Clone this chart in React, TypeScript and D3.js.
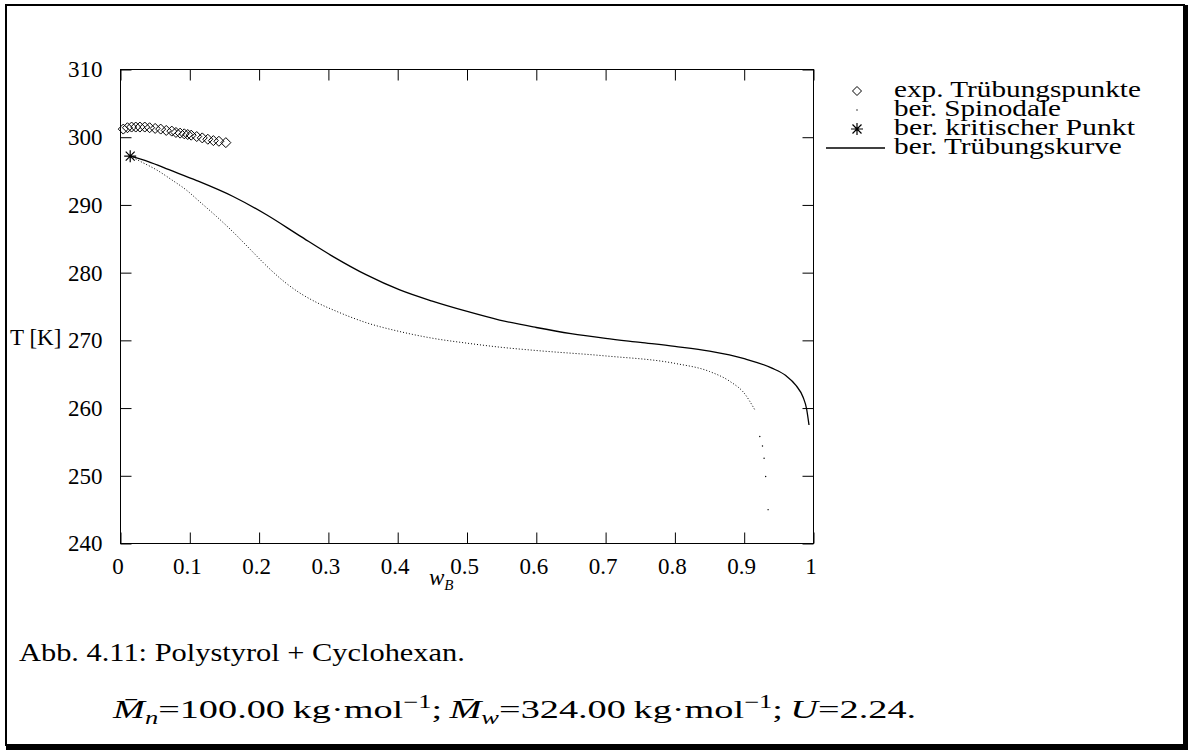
import { useRef, useEffect } from 'react'
import * as d3 from 'd3'

// Achsen
const xTicks = [0, 0.1, 0.2, 0.3, 0.4, 0.5, 0.6, 0.7, 0.8, 0.9, 1]
const xTickLabels = ['0', '0.1', '0.2', '0.3', '0.4', '0.5', '0.6', '0.7', '0.8', '0.9', '1']
const yTicks = [240, 250, 260, 270, 280, 290, 300, 310]

// exp. Trübungspunkte
const cloudPointW = [0.004, 0.01, 0.016, 0.022, 0.028, 0.035, 0.042, 0.05, 0.058, 0.066, 0.074, 0.08, 0.086, 0.092, 0.097, 0.102, 0.11, 0.118, 0.126, 0.134, 0.142, 0.152]
const cloudPointT = [301.2, 301.4, 301.5, 301.5, 301.5, 301.5, 301.4, 301.3, 301.2, 301.0, 300.9, 300.7, 300.6, 300.5, 300.4, 300.3, 300.1, 299.9, 299.7, 299.5, 299.4, 299.2]

// ber. kritischer Punkt
const criticalW = [0.014]
const criticalT = [297.2]

// ber. Spinodale
const spinodalW = [0.014, 0.033, 0.05, 0.074, 0.095, 0.114, 0.1385, 0.1625, 0.1866, 0.2107, 0.2346, 0.2587, 0.283, 0.3068, 0.355, 0.403, 0.451, 0.499, 0.547, 0.6, 0.7, 0.8, 0.85, 0.88, 0.9, 0.915, 0.9225, 0.9264, 0.9287, 0.931, 0.9345]
const spinodalT = [297.2, 296.2, 295.3, 293.7, 292.2, 290.5, 288.3, 286.0, 283.5, 281.0, 278.8, 277.0, 275.6, 274.5, 272.6, 271.3, 270.3, 269.6, 269.0, 268.5, 267.7, 266.6, 265.4, 263.9, 262.2, 259.8, 255.8, 254.4, 252.6, 249.9, 245.0]

// ber. Trübungskurve
const cloudCurveW = [0.014, 0.04, 0.07, 0.11, 0.1625, 0.2107, 0.2587, 0.3068, 0.355, 0.403, 0.451, 0.499, 0.547, 0.6, 0.65, 0.7, 0.75, 0.8, 0.85, 0.9, 0.94, 0.96, 0.975, 0.985, 0.99, 0.9935]
const cloudCurveT = [297.2, 296.4, 295.2, 293.6, 291.25, 288.54, 285.43, 282.37, 279.66, 277.44, 275.75, 274.3, 273.0, 271.9, 271.0, 270.3, 269.7, 269.1, 268.4, 267.3, 265.9, 264.8, 263.3, 261.6, 259.9, 257.5]

const legendLabels = ['exp. Trübungspunkte', 'ber. Spinodale', 'ber. kritischer Punkt', 'ber. Trübungskurve']
const legendWidths = [247, 167, 242, 228]

const FONT = "'Liberation Serif', 'DejaVu Serif', serif"

const App = () => {
  const svgRef = useRef<SVGSVGElement>(null)

  useEffect(() => {
    draw()
  }, [])

  // Text horizontal auf Zielbreite strecken (CM ist breiter als Times)
  const fit = (sel: any, x0: number, target: number) => {
    const bb = sel.node().getBBox()
    if (!bb.width) return
    const s = target / bb.width
    sel.attr('transform', `translate(${x0},0) scale(${s},1) translate(${-x0},0)`)
  }

  const draw = () => {
    const width = 1188
    const height = 750
    const svg = d3.select(svgRef.current).attr('width', width).attr('height', height)
      .style('font-family', FONT)
    svg.selectAll('*').remove()

    svg.append('rect').attr('width', width).attr('height', height).attr('fill', '#fff')

    // Rahmen (shadowbox)
    svg.append('rect').attr('x', 6).attr('y', 5).attr('width', 1178).attr('height', 740)
      .attr('fill', 'none').attr('stroke', '#000').attr('stroke-width', 2)
    svg.append('rect').attr('x', 1184).attr('y', 5).attr('width', 4).attr('height', 745).attr('fill', '#000')
    svg.append('rect').attr('x', 6).attr('y', 745).attr('width', 1182).attr('height', 5).attr('fill', '#000')

    const x = d3.scaleLinear().domain([0, 1]).range([120.5, 813.5])
    const y = d3.scaleLinear().domain([240, 310]).range([543.5, 69.5])

    const tick = 11

    // Plotrahmen
    svg.append('rect')
      .attr('x', x(0)).attr('y', y(310))
      .attr('width', x(1) - x(0)).attr('height', y(240) - y(310))
      .attr('fill', 'none').attr('stroke', '#000').attr('stroke-width', 1)

    const styleAxis = (g: any) => {
      g.select('.domain').remove()
      g.selectAll('.tick line').attr('stroke', '#000')
      g.selectAll('text').attr('fill', '#000').style('font-size', '23px').style('font-family', FONT)
    }

    // x-Achse unten
    svg.append('g')
      .attr('transform', `translate(0, ${y(240)})`)
      .call(d3.axisBottom(x).tickValues(xTicks).tickSize(-tick).tickPadding(14)
        .tickFormat((d, i) => xTickLabels[i]))
      .call(styleAxis)
      .call((g: any) => g.selectAll('text').attr('transform', 'translate(-3,0)'))

    // x-Achse oben (nur Striche)
    svg.append('g')
      .attr('transform', `translate(0, ${y(310)})`)
      .call(d3.axisTop(x).tickValues(xTicks).tickSize(-tick).tickFormat(() => ''))
      .call(styleAxis)

    // y-Achse links
    svg.append('g')
      .attr('transform', `translate(${x(0)}, 0)`)
      .call(d3.axisLeft(y).tickValues(yTicks).tickSize(-tick).tickPadding(18).tickFormat(d3.format('d')))
      .call(styleAxis)

    // y-Achse rechts
    svg.append('g')
      .attr('transform', `translate(${x(1)}, 0)`)
      .call(d3.axisRight(y).tickValues(yTicks).tickSize(-tick).tickFormat(() => ''))
      .call(styleAxis)

    // Achsenbeschriftungen
    svg.append('text').attr('x', 10).attr('y', 345).style('font-size', '23px').text('T [K]')
    const xl = svg.append('text').attr('x', 429).attr('y', 585).style('font-size', '23px')
    xl.append('tspan').style('font-style', 'italic').text('w')
    xl.append('tspan').attr('dy', 5).style('font-style', 'italic').style('font-size', '15px').text('B')

    // Trübungskurve
    const line = d3.line<number>().x((d, i) => x(cloudCurveW[i])).y(d => y(d)).curve(d3.curveMonotoneX)
    svg.append('path').attr('d', line(cloudCurveT))
      .attr('fill', 'none').attr('stroke', '#000').attr('stroke-width', 1.3)

    // Spinodale (Punkte)
    const spIdx = spinodalW.map((w, i) => i)
    const dense = spIdx.filter(i => spinodalW[i] < 0.92)
    const sparse = spIdx.filter(i => spinodalW[i] >= 0.92)
    const spLine = d3.line<number>().x(i => x(spinodalW[i])).y(i => y(spinodalT[i])).curve(d3.curveMonotoneX)
    svg.append('path').attr('d', spLine(dense))
      .attr('fill', 'none').attr('stroke', '#000').attr('stroke-width', 1).attr('stroke-dasharray', '1 2')
    svg.append('g').selectAll('circle').data(sparse).join('circle')
      .attr('cx', i => x(spinodalW[i])).attr('cy', i => y(spinodalT[i])).attr('r', 0.7).attr('fill', '#000')

    // Trübungspunkte
    const diamond = (cx: number, cy: number, s: number) =>
      `M${cx},${cy - s}L${cx + s},${cy}L${cx},${cy + s}L${cx - s},${cy}Z`
    svg.append('g').selectAll('path').data(cloudPointW).join('path')
      .attr('d', (d, i) => diamond(x(d), y(cloudPointT[i]), 5))
      .attr('fill', 'none').attr('stroke', '#000').attr('stroke-width', 1)

    // kritischer Punkt
    const star = (cx: number, cy: number, s: number) => {
      const k = s * 0.75
      return `M${cx - s},${cy}L${cx + s},${cy}M${cx},${cy - s}L${cx},${cy + s}` +
        `M${cx - k},${cy - k}L${cx + k},${cy + k}M${cx - k},${cy + k}L${cx + k},${cy - k}`
    }
    svg.append('g').selectAll('path').data(criticalW).join('path')
      .attr('d', (d, i) => star(x(d), y(criticalT[i]), 6))
      .attr('fill', 'none').attr('stroke', '#000').attr('stroke-width', 1.2)

    // Legende
    const lgX = 857
    const lgRows = [91, 110, 129, 148]
    const legend = svg.append('g')
    legend.selectAll('text').data(legendLabels).join('text')
      .attr('x', 894).attr('y', (d, i) => lgRows[i] + 6)
      .style('font-size', '23px').text(d => d)
      .each(function (this: any, d, i) { fit(d3.select(this), 894, legendWidths[i]) })
    legend.append('path').attr('d', diamond(lgX, lgRows[0], 4.5))
      .attr('fill', 'none').attr('stroke', '#000')
    legend.append('circle').attr('cx', lgX).attr('cy', lgRows[1]).attr('r', 0.7).attr('fill', '#000')
    legend.append('path').attr('d', star(lgX, lgRows[2], 6))
      .attr('fill', 'none').attr('stroke', '#000').attr('stroke-width', 1.2)
    legend.append('line').attr('x1', 826).attr('x2', 885).attr('y1', lgRows[3]).attr('y2', lgRows[3])
      .attr('stroke', '#000').attr('stroke-width', 1.3)

    // Bildunterschrift
    const cap1 = svg.append('text').attr('x', 19).attr('y', 661).style('font-size', '26px')
      .text('Abb. 4.11: Polystyrol + Cyclohexan.')
    fit(cap1, 19, 446)

    const cap = svg.append('text').attr('x', 113).attr('y', 718).style('font-size', '26px')
    const addMean = (sub: string, value: string, first: boolean) => {
      cap.append('tspan').attr('dx', first ? 0 : 5).style('font-style', 'italic').text('M\u0304')
      cap.append('tspan').attr('dy', 6).style('font-style', 'italic').style('font-size', '18px').text(sub)
      cap.append('tspan').attr('dy', -6).text(`=${value}\u2009kg\u00b7mol`)
      cap.append('tspan').attr('dy', -10).style('font-size', '18px').text('\u22121')
      cap.append('tspan').attr('dy', 10).text(';')
    }
    addMean('n', '100.00', true)
    addMean('w', '324.00', false)
    cap.append('tspan').attr('dx', 5).style('font-style', 'italic').text('U')
    cap.append('tspan').text('=2.24.')
    fit(cap, 113, 805)
  }

  return (
    <svg ref={svgRef} style={{ position: 'absolute', left: 0, top: 0, display: 'block' }}></svg>
  )
}

export default App
